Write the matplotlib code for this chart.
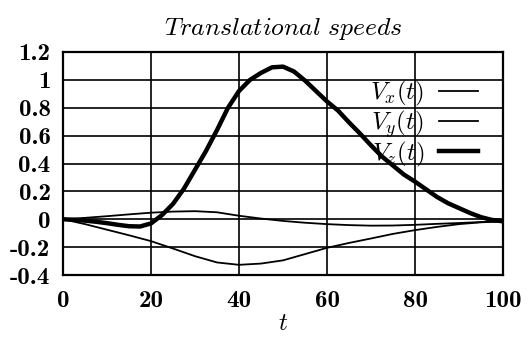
import matplotlib
matplotlib.use("Agg")
import matplotlib.pyplot as plt

plt.rcParams['mathtext.fontset'] = 'cm'
plt.rcParams['font.family'] = ['DejaVu Serif']
plt.rcParams['axes.unicode_minus'] = False

# Data
t_fine = [0, 2.5, 5, 7.5, 10, 12.5, 15, 17.5, 20, 22.5, 25, 27.5, 30, 32.5, 35, 37.5,
          40, 42.5, 45, 47.5, 50, 52.5, 55, 57.5, 60, 62.5, 65, 67.5, 70, 72.5, 75,
          77.5, 80, 82.5, 85, 87.5, 90, 92.5, 95, 97.5, 100]
vz = [0, -0.004, -0.01, -0.018, -0.028, -0.04, -0.05, -0.052, -0.03, 0.03, 0.11, 0.22,
      0.355, 0.49, 0.64, 0.8, 0.92, 1.0, 1.05, 1.09, 1.095, 1.06, 0.995, 0.92, 0.845,
      0.78, 0.695, 0.615, 0.53, 0.45, 0.385, 0.32, 0.27, 0.215, 0.16, 0.115, 0.08,
      0.045, 0.015, -0.005, -0.015]

t_coarse = [0, 5, 10, 15, 20, 25, 30, 35, 40, 45, 50, 55, 60, 65, 70, 75, 80, 85, 90, 95, 100]
vx = [0, 0.01, 0.022, 0.035, 0.047, 0.055, 0.058, 0.05, 0.025, 0.005, -0.012, -0.025,
      -0.035, -0.042, -0.046, -0.045, -0.04, -0.033, -0.027, -0.02, -0.015]
vy = [0, -0.035, -0.075, -0.115, -0.157, -0.21, -0.265, -0.31, -0.327, -0.318, -0.295,
      -0.25, -0.205, -0.17, -0.138, -0.105, -0.078, -0.055, -0.035, -0.022, -0.015]

x_ticks = [0, 20, 40, 60, 80, 100]
x_tick_labels = ['0', '20', '40', '60', '80', '100']
y_ticks = [-0.4, -0.2, 0, 0.2, 0.4, 0.6, 0.8, 1.0, 1.2]
y_tick_labels = ['-0.4', '-0.2', '0', '0.2', '0.4', '0.6', '0.8', '1', '1.2']

fig = plt.figure(figsize=(5.29, 3.42), dpi=100)
ax = fig.add_axes([63/529, 1 - 275/342, 440/529, 223/342])

ax.plot(t_coarse, vx, color='black', lw=1.3, label=r'$V_x(t)$')
ax.plot(t_coarse, vy, color='black', lw=1.3, label=r'$V_y(t)$')
ax.plot(t_fine, vz, color='black', lw=3.2, label=r'$V_z(t)$')

ax.set_xlim(0, 100)
ax.set_ylim(-0.4, 1.2)
ax.set_xticks(x_ticks)
ax.set_xticklabels(x_tick_labels, fontfamily='cmb10', fontsize=18)
ax.set_yticks(y_ticks)
ax.set_yticklabels(y_tick_labels, fontfamily='cmb10', fontsize=18)
ax.tick_params(axis='both', length=0)
ax.tick_params(axis='x', pad=11)
ax.tick_params(axis='y', pad=9)
ax.grid(True, color='black', lw=1.2)
for sp in ax.spines.values():
    sp.set_linewidth(1.6)
    sp.set_color('black')

ax.set_title(r'$\mathit{Translational\ speeds}$', fontsize=18.5, pad=12)
ax.set_xlabel(r'$t$', fontsize=18, labelpad=0)

leg = ax.legend(loc='upper right', bbox_to_anchor=(0.943, 0.88), frameon=False,
                markerfirst=False, fontsize=18, handlelength=1.55, handletextpad=0.6,
                labelspacing=0.0, borderpad=0, borderaxespad=0)

fig.savefig('out.png', dpi=100)
